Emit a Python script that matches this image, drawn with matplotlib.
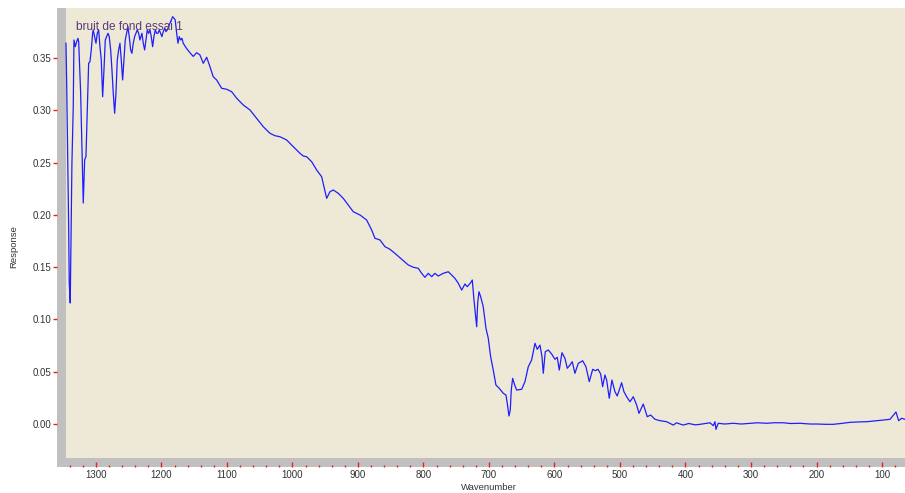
import numpy as np
import matplotlib
matplotlib.use("Agg")
import matplotlib.pyplot as plt
from matplotlib.patches import Rectangle
from matplotlib.ticker import MultipleLocator

plt.rcParams['font.family'] = ['Liberation Sans', 'DejaVu Sans']

TITLE = "bruit de fond essai 1"
X_LABEL = "Wavenumber"
Y_LABEL = "Response"

# spectrum (wavenumber, response)
wavenumber = [
    1345.8, 1344.8, 1341.7, 1340.8, 1339.3, 1337.7, 1336.7, 1334.7, 1333.6, 1331.6,
    1329.5, 1327.5, 1326.4, 1323.4, 1321.4, 1319.4, 1317.3, 1315.3, 1313.3, 1311.2,
    1309.2, 1307.2, 1305.1, 1304.2, 1302.0, 1300.0, 1298.0, 1295.9, 1293.9, 1291.9,
    1289.8, 1287.8, 1285.8, 1283.7, 1281.7, 1279.7, 1277.6, 1275.6, 1273.6, 1271.5,
    1269.5, 1267.5, 1265.4, 1263.4, 1261.4, 1259.3, 1257.3, 1255.3, 1253.2, 1251.2,
    1249.2, 1247.1, 1245.1, 1243.1, 1241.0, 1239.0, 1237.0, 1234.8, 1232.9, 1229.8,
    1227.8, 1225.7, 1223.7, 1221.7, 1219.6, 1217.6, 1215.6, 1213.5, 1211.5, 1209.5,
    1207.4, 1205.4, 1203.4, 1201.3, 1199.3, 1197.3, 1195.2, 1193.2, 1191.2, 1189.0,
    1187.1, 1185.1, 1182.9, 1180.9, 1179.0, 1176.8, 1174.8, 1172.9, 1170.7, 1168.7,
    1166.8, 1161.6, 1156.5, 1151.5, 1146.3, 1141.3, 1136.2, 1131.0, 1126.0, 1121.0,
    1115.8, 1108.1, 1100.5, 1092.9, 1085.2, 1075.2, 1064.9, 1054.7, 1044.6, 1034.4,
    1026.8, 1019.1, 1008.9, 998.8, 988.6, 983.6, 978.4, 970.7, 963.1, 955.5,
    951.9, 947.8, 942.8, 937.8, 930.1, 922.5, 914.8, 907.2, 897.0, 886.8,
    879.1, 874.1, 866.5, 858.8, 851.2, 843.6, 833.3, 823.3, 815.6, 808.0,
    802.8, 797.8, 792.7, 787.5, 782.5, 777.5, 769.8, 762.2, 757.0, 752.0,
    746.9, 741.7, 736.7, 733.2, 728.0, 725.5, 722.9, 719.9, 718.8, 717.3,
    715.3, 712.7, 708.8, 704.6, 701.1, 697.5, 693.5, 689.4, 684.3, 678.2,
    674.1, 672.1, 669.5, 667.5, 666.0, 663.9, 660.8, 657.8, 650.1, 645.1,
    640.0, 634.9, 629.8, 626.3, 622.2, 619.1, 617.1, 614.1, 609.5, 604.3,
    599.3, 595.8, 592.7, 588.6, 584.0, 580.5, 576.4, 572.9, 568.8, 563.7,
    557.0, 552.0, 546.9, 541.7, 537.8, 533.6, 529.5, 526.5, 523.0, 520.4,
    516.4, 512.3, 507.7, 504.2, 497.5, 494.0, 489.8, 484.8, 479.7, 474.6,
    471.0, 464.5, 458.4, 453.2, 446.6, 439.0, 428.8, 418.7, 413.5, 408.4,
    403.4, 395.0, 385.0, 377.9, 362.6, 357.6, 355.0, 353.5, 350.0, 340.0,
    327.1, 315.0, 301.6, 290.0, 276.1, 265.0, 250.7, 240.0, 225.2, 210.0,
    199.7, 185.0, 174.4, 160.0, 148.9, 135.0, 123.4, 110.0, 98.1, 87.8,
    78.7, 74.6, 70.0, 64.9,
]
response = [
    0.3641, 0.3290, 0.1887, 0.1348, 0.1157, 0.1970, 0.2496, 0.3034, 0.3672, 0.3608,
    0.3656, 0.3688, 0.3656, 0.3165, 0.2652, 0.2113, 0.2525, 0.2556, 0.3003, 0.3449,
    0.3465, 0.3577, 0.3736, 0.3768, 0.3704, 0.3641, 0.3736, 0.3768, 0.3608, 0.3481,
    0.3130, 0.3385, 0.3672, 0.3704, 0.3736, 0.3704, 0.3577, 0.3385, 0.3162, 0.2971,
    0.3162, 0.3481, 0.3577, 0.3641, 0.3481, 0.3290, 0.3481, 0.3672, 0.3736, 0.3799,
    0.3704, 0.3577, 0.3545, 0.3641, 0.3704, 0.3736, 0.3768, 0.3736, 0.3672, 0.3736,
    0.3641, 0.3577, 0.3672, 0.3768, 0.3736, 0.3768, 0.3704, 0.3608, 0.3704, 0.3768,
    0.3736, 0.3736, 0.3768, 0.3736, 0.3704, 0.3752, 0.3784, 0.3752, 0.3768, 0.3799,
    0.3832, 0.3863, 0.3895, 0.3880, 0.3863, 0.3736, 0.3641, 0.3704, 0.3672, 0.3688,
    0.3641, 0.3590, 0.3550, 0.3515, 0.3551, 0.3529, 0.3449, 0.3507, 0.3417, 0.3321,
    0.3290, 0.3210, 0.3201, 0.3178, 0.3115, 0.3051, 0.3003, 0.2923, 0.2843, 0.2780,
    0.2757, 0.2747, 0.2716, 0.2652, 0.2589, 0.2563, 0.2556, 0.2508, 0.2429, 0.2365,
    0.2269, 0.2158, 0.2221, 0.2238, 0.2206, 0.2158, 0.2094, 0.2030, 0.1999, 0.1951,
    0.1855, 0.1776, 0.1760, 0.1696, 0.1671, 0.1632, 0.1575, 0.1521, 0.1499, 0.1489,
    0.1441, 0.1403, 0.1441, 0.1409, 0.1441, 0.1415, 0.1441, 0.1456, 0.1425, 0.1393,
    0.1346, 0.1281, 0.1339, 0.1313, 0.1351, 0.1377, 0.1186, 0.0995, 0.0930, 0.1154,
    0.1265, 0.1217, 0.1122, 0.0915, 0.0820, 0.0644, 0.0516, 0.0373, 0.0341, 0.0294,
    0.0277, 0.0198, 0.0077, 0.0134, 0.0325, 0.0437, 0.0373, 0.0325, 0.0332, 0.0405,
    0.0548, 0.0612, 0.0772, 0.0714, 0.0755, 0.0644, 0.0485, 0.0691, 0.0708, 0.0669,
    0.0619, 0.0638, 0.0516, 0.0682, 0.0628, 0.0533, 0.0564, 0.0596, 0.0485, 0.0580,
    0.0605, 0.0548, 0.0405, 0.0523, 0.0510, 0.0523, 0.0478, 0.0357, 0.0469, 0.0421,
    0.0246, 0.0421, 0.0309, 0.0268, 0.0395, 0.0309, 0.0261, 0.0213, 0.0261, 0.0182,
    0.0102, 0.0191, 0.0070, 0.0086, 0.0045, 0.0032, 0.0022, -0.0010, 0.0012, 0.0000,
    -0.0010, 0.0005, -0.0008, -0.0003, 0.0012, -0.0016, 0.0022, -0.0051, 0.0007, 0.0000,
    0.0007, 0.0000, 0.0007, 0.0012, 0.0007, 0.0012, 0.0012, 0.0005, 0.0007, 0.0000,
    0.0000, -0.0003, -0.0003, 0.0007, 0.0016, 0.0020, 0.0022, 0.0030, 0.0038, 0.0045,
    0.0115, 0.0032, 0.0055, 0.0045,
]

X_MAJOR = 100
X_MINOR = 20
Y_MAJOR = 0.05

BEIGE = "#EEE9D6"
GREY = "#C0C0C0"
TICK_RED = "#E82020"
TEXT_COL = "#333333"

W, H = 905, 493
fig = plt.figure(figsize=(W / 100, H / 100), dpi=100)
# axes box in pixels: left 57, right 905, top 8, bottom 467
ax = fig.add_axes([57 / W, (H - 467) / H, (905 - 57) / W, (467 - 8) / H])
ax.set_facecolor(BEIGE)

ax.plot(wavenumber, response, color="#1E1EFF", linewidth=0.9, zorder=3)

ax.set_xlim(1359.5, 64.9)
ax.set_ylim(-0.0411, 0.3978)

for s in ax.spines.values():
    s.set_visible(False)

# grey frame strips on left and bottom
ax.add_patch(Rectangle((0, 0), 8.5 / 848, 1, transform=ax.transAxes,
                       facecolor=GREY, edgecolor="none", zorder=2))
ax.add_patch(Rectangle((0, 0), 1, 9 / 459, transform=ax.transAxes,
                       facecolor=GREY, edgecolor="none", zorder=2))

ax.xaxis.set_major_locator(MultipleLocator(X_MAJOR))
ax.xaxis.set_minor_locator(MultipleLocator(X_MINOR))
ax.yaxis.set_major_locator(MultipleLocator(Y_MAJOR))
ax.yaxis.set_major_formatter(plt.FuncFormatter(lambda v, p: f"{v:.2f}"))
ax.xaxis.set_major_formatter(plt.FuncFormatter(lambda v, p: f"{v:.0f}"))

ax.tick_params(axis="x", which="major", direction="in", length=3.6, width=1.0,
               color=TICK_RED, labelsize=7, labelcolor=TEXT_COL, pad=2.5)
ax.tick_params(axis="x", which="minor", direction="in", length=1.8, width=1.0,
               color=TICK_RED)
ax.tick_params(axis="y", which="major", direction="out", length=2.9, width=1.0,
               color=TICK_RED, labelsize=7, labelcolor=TEXT_COL, pad=0.8)
ax.set_axisbelow(False)

ax.text(19 / 848, (467 - 27) / 459, TITLE, transform=ax.transAxes,
        fontsize=8.6, color="#5A3A78", ha="left", va="center", zorder=5)

fig.text(489 / W, (H - 487) / H, X_LABEL, fontsize=6.8, color=TEXT_COL,
         ha="center", va="center")
fig.text(14 / W, (H - 247) / H, Y_LABEL, fontsize=6.8, color=TEXT_COL,
         ha="center", va="center", rotation=90)

fig.savefig("out.png", dpi=100, facecolor="white")
